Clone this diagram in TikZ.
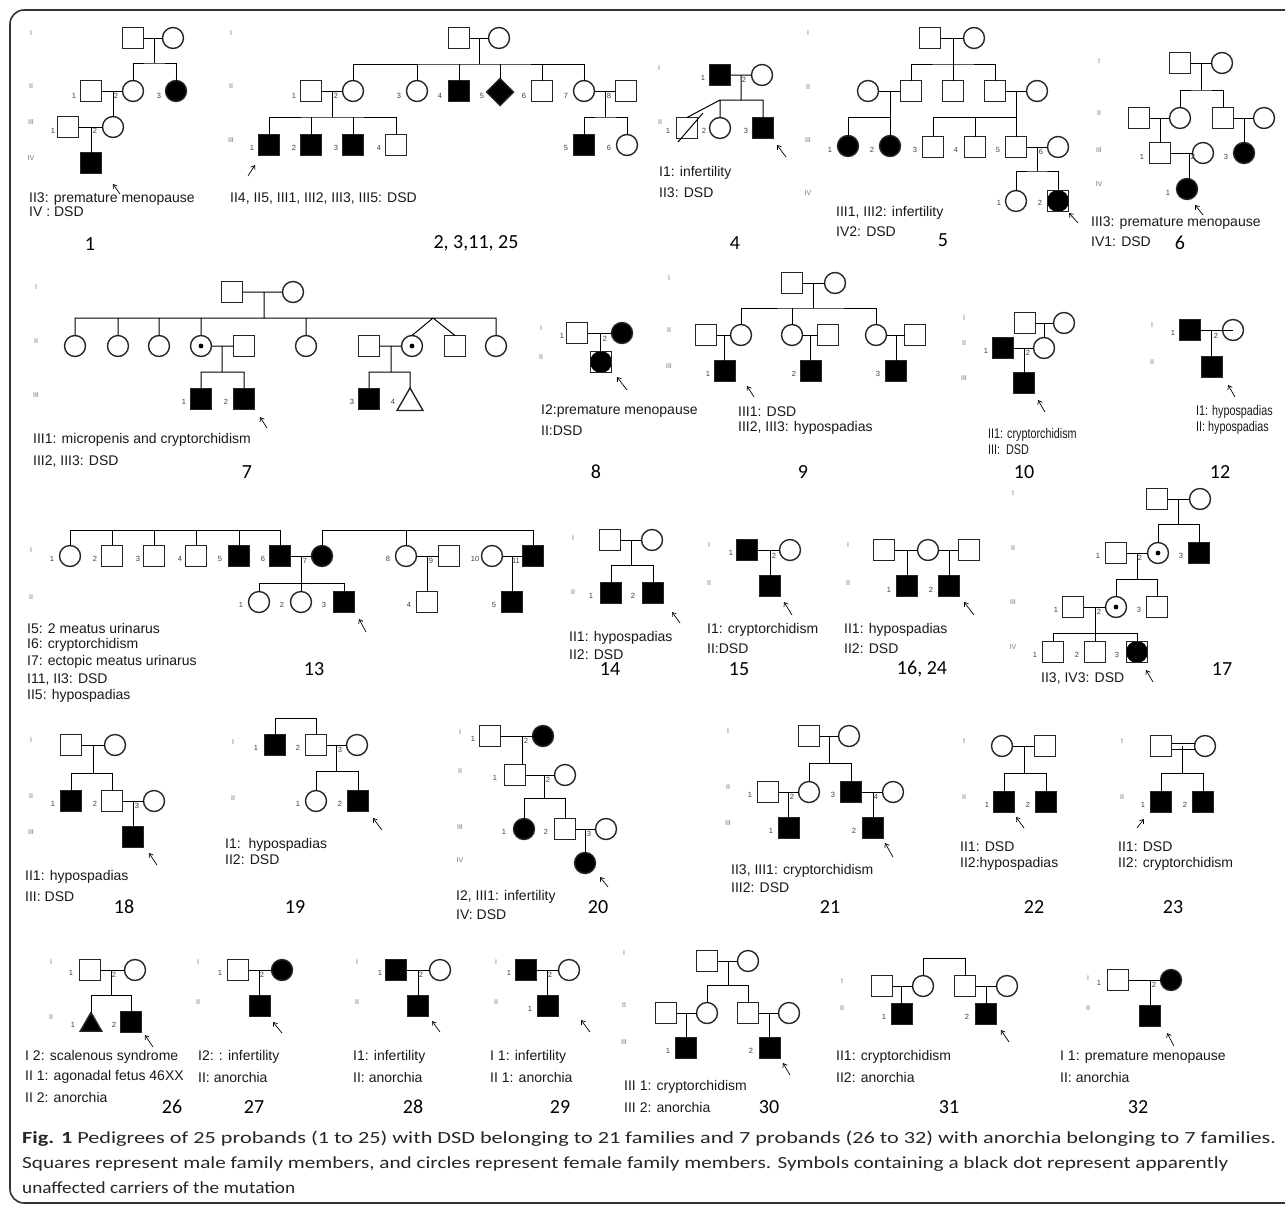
\documentclass[tikz,border=0pt]{standalone}
\usepackage{fontspec}
\usepackage{graphicx}
\setmainfont{Liberation Sans}
\newfontfamily\calib{Carlito}
\usetikzlibrary{shapes.geometric,arrows.meta,calc}
\newcommand\genf{\fontsize{7}{8}\selectfont}
\newcommand\idf{\fontsize{7.5}{8}\selectfont}
\newcommand\txf{\fontsize{14}{16}\selectfont}
\newcommand\numf{\calib\fontsize{20}{24}\selectfont}
\newcommand\capf{\calib\fontsize{17}{20}\selectfont}
\newcommand\narrowtx[1]{\scalebox{0.77}[1]{#1}}
\tikzset{
 sym/.style={draw=black!85,line width=1.4pt,minimum size=21pt,inner sep=0pt,outer sep=0pt},
 msq/.style={sym,rectangle},
 msqa/.style={msq,fill=black},
 fci/.style={sym,circle},
 fcia/.style={fci,fill=black},
 sqc/.style={msq,path picture={\fill[black] (path picture bounding box.center) circle (11pt);}},
 dotc/.style={fci,path picture={\fill[black] (path picture bounding box.center) circle (2.4pt);}},
 dia/.style={sym,diamond,fill=black,minimum size=27pt},
 tri/.style={sym,regular polygon,regular polygon sides=3,minimum size=30pt},
 tria/.style={tri,fill=black,minimum size=25pt},
 ln/.style={line width=1pt,black},
 gl/.style={font=\genf,text=black!55,inner sep=0pt},
 il/.style={font=\idf,text=black!75,inner sep=0pt},
 tx/.style={font=\txf,anchor=west,inner sep=0pt,text=black!90},
 pn/.style={font=\numf,inner sep=0pt},
 pa/.style={-{Straight Barb[length=3.5pt,width=5pt]},line width=0.7pt},
 capn/.style={anchor=west,inner sep=0pt,font=\capf,text=black!85},
 frame/.style={line width=1.6pt,black!80,rounded corners=14pt}
}
\begin{document}
\begin{tikzpicture}[x=1pt,y=-1pt]
\useasboundingbox (0,0) rectangle (1285,1211);
\draw[frame] (10,10) rectangle (1330,1203);

% ================= Pedigree 1
\node[gl] (g1a) at (31,33) {I};
\node[gl] (g1b) at (31,86) {II};
\node[gl] (g1c) at (31,122) {III};
\node[gl] (g1d) at (31,158) {IV};
\node[msq] (p1a) at (133,38) {};
\node[fci] (p1b) at (173,38) {};
\node[msq] (p1c) at (91,91) {};
\node[fci] (p1d) at (133,91) {};
\node[fcia] (p1e) at (176,91) {};
\node[msq] (p1f) at (68,127) {};
\node[fci] (p1g) at (113,127) {};
\node[msqa] (p1h) at (91,163) {};
\coordinate (p1m) at (154,38); \coordinate (p1s) at (154,63);
\coordinate (p1m2) at (113,91);
\coordinate (p1m3) at (91,127);
\draw[ln] (p1a) -- (p1b) (p1m) -- (p1s) (p1d.north) |- (p1s) -| (p1e.north)
  (p1c) -- (p1d) (p1m2) -- (p1g.north) (p1f) -- (p1g) (p1m3) -- (p1h.north);
\node[il] (i1a) at (74,96) {1};
\node[il] (i1b) at (116,96) {2};
\node[il] (i1c) at (159,96) {3};
\node[il] (i1d) at (53,131) {1};
\node[il] (i1e) at (95,131) {2};
\draw[pa] (120,194) -- (113,184);
\node[tx] (t1a) at (29,199) {II3: premature menopause};
\node[tx] (t1b) at (29,212) {IV : DSD};
\node[pn] (n1) at (90,244) {1};

% ================= Pedigree 2
\node[gl] (g2a) at (231,33) {I};
\node[gl] (g2b) at (231,86) {II};
\node[gl] (g2c) at (231,140) {III};
\node[msq] (p2a) at (459,38) {};
\node[fci] (p2b) at (499,38) {};
\coordinate (p2m) at (479,38); \coordinate (p2s) at (479,64);
\node[msq] (p2c) at (311,91) {};
\node[fci] (p2d) at (353,91) {};
\node[fci] (p2e) at (417,91) {};
\node[msqa] (p2f) at (459,91) {};
\node[dia] (p2g) at (500,92) {};
\node[msq] (p2h) at (542,91) {};
\node[fci] (p2i) at (584,91) {};
\node[msq] (p2j) at (626,91) {};
\coordinate (p2m2) at (332,91); \coordinate (p2s2) at (332,117);
\node[msqa] (p2k) at (269,145) {};
\node[msqa] (p2l) at (311,145) {};
\node[msqa] (p2n) at (353,145) {};
\node[msq] (p2o) at (396,145) {};
\coordinate (p2m3) at (605,91); \coordinate (p2s3) at (605,117);
\node[msqa] (p2p) at (584,145) {};
\node[fci] (p2q) at (627,145) {};
\draw[ln] (p2a) -- (p2b) (p2m) -- (p2s) (p2d.north) |- (p2s) -| (p2i.north)
  (p2e.north) -- (p2e.north |- p2s) (p2f.north) -- (p2f.north |- p2s)
  (p2g.north) -- (p2g.north |- p2s) (p2h.north) -- (p2h.north |- p2s)
  (p2c) -- (p2d) (p2m2) -- (p2s2) (p2k.north) |- (p2s2) -| (p2o.north)
  (p2l.north) -- (p2l.north |- p2s2) (p2n.north) -- (p2n.north |- p2s2)
  (p2i) -- (p2j) (p2m3) -- (p2s3) (p2p.north) |- (p2s3) -| (p2q.north);
\node[il] (i2a) at (294,96) {1};
\node[il] (i2b) at (336,96) {2};
\node[il] (i2c) at (399,96) {3};
\node[il] (i2d) at (440,96) {4};
\node[il] (i2e) at (482,96) {5};
\node[il] (i2f) at (524,96) {6};
\node[il] (i2g) at (566,96) {7};
\node[il] (i2h) at (609,96) {8};
\node[il] (i2i) at (252,148) {1};
\node[il] (i2j) at (294,148) {2};
\node[il] (i2k) at (336,148) {3};
\node[il] (i2l) at (379,148) {4};
\node[il] (i2n) at (566,148) {5};
\node[il] (i2o) at (609,148) {6};
\draw[pa] (248,176) -- (255,165);
\node[tx] (t2a) at (230,199) {II4, II5, III1, III2, III3, III5: DSD};
\node[pn] (n2) at (476,243) {2, 3,11, 25};

% ================= Pedigree 4
\node[gl] (g4a) at (659,68) {I};
\node[gl] (g4b) at (660,122) {II};
\node[msqa] (p4a) at (720,75) {};
\node[fci] (p4b) at (762,75) {};
\coordinate (p4m) at (741,75); \coordinate (p4s) at (741,100);
\node[msq] (p4c) at (687,128) {};
\node[fci] (p4d) at (720,128) {};
\node[msqa] (p4e) at (763,128) {};
\coordinate (p4x1) at (703,113); \coordinate (p4x2) at (678,142);
\draw[ln] (p4a) -- (p4b) (p4m) -- (p4s) (p4d.north) |- (p4s) -| (p4e.north)
  (p4d.north |- p4s) -- (p4c.north) (p4x1) -- (p4x2);
\node[il] (i4a) at (703,78) {1};
\node[il] (i4b) at (744,80) {2};
\node[il] (i4c) at (668,131) {1};
\node[il] (i4d) at (704,131) {2};
\node[il] (i4e) at (746,131) {3};
\draw[pa] (786,157) -- (777,145);
\node[tx] (t4a) at (659,173) {I1: infertility};
\node[tx] (t4b) at (659,193) {II3: DSD};
\node[pn] (n4) at (735,243) {4};

% ================= Pedigree 5
\node[gl] (g5a) at (808,33) {I};
\node[gl] (g5b) at (808,87) {II};
\node[gl] (g5c) at (808,140) {III};
\node[gl] (g5d) at (808,193) {IV};
\node[msq] (p5a) at (930,38) {};
\node[fci] (p5b) at (974,38) {};
\coordinate (p5m) at (953,38); \coordinate (p5s) at (953,64);
\node[fci] (p5c) at (868,91) {};
\node[msq] (p5d) at (911,91) {};
\node[msq] (p5e) at (953,91) {};
\node[msq] (p5f) at (995,91) {};
\node[fci] (p5g) at (1037,91) {};
\coordinate (p5m2) at (890,91); \coordinate (p5s2) at (890,117);
\node[fcia] (p5h) at (848,146) {};
\node[fcia] (p5i) at (890,146) {};
\coordinate (p5m3) at (1016,91); \coordinate (p5s3) at (1016,117);
\node[msq] (p5j) at (933,147) {};
\node[msq] (p5k) at (975,147) {};
\node[msq] (p5l) at (1016,147) {};
\node[fci] (p5n) at (1058,147) {};
\coordinate (p5m4) at (1037,147); \coordinate (p5s4) at (1037,171);
\node[fci] (p5o) at (1016,201) {};
\node[sqc] (p5p) at (1058,201) {};
\draw[ln] (p5a) -- (p5b) (p5m) -- (p5s) (p5d.north) |- (p5s) -| (p5f.north) (p5e.north) -- (p5s)
  (p5c) -- (p5d) (p5m2) -- (p5s2) (p5h.north) |- (p5s2) -- (p5i.north)
  (p5f) -- (p5g) (p5m3) -- (p5s3) (p5j.north) |- (p5s3) -- (p5l.north) (p5k.north) -- (p5k.north |- p5s3)
  (p5l) -- (p5n) (p5m4) -- (p5s4) (p5o.north) |- (p5s4) -| (p5p.north);
\node[il] (i5a) at (830,150) {1};
\node[il] (i5b) at (872,150) {2};
\node[il] (i5c) at (915,150) {3};
\node[il] (i5d) at (956,150) {4};
\node[il] (i5e) at (998,150) {5};
\node[il] (i5f) at (1041,152) {6};
\node[il] (i5g) at (999,203) {1};
\node[il] (i5h) at (1040,203) {2};
\draw[pa] (1078,223) -- (1069,213);
\node[tx] (t5a) at (836,213) {III1, III2: infertility};
\node[tx] (t5b) at (836,232) {IV2: DSD};
\node[pn] (n5) at (943,240) {5};

% ================= Pedigree 6
\node[gl] (g6a) at (1099,61) {I};
\node[gl] (g6b) at (1099,113) {II};
\node[gl] (g6c) at (1099,150) {III};
\node[gl] (g6d) at (1099,184) {IV};
\node[msq] (p6a) at (1180,63) {};
\node[fci] (p6b) at (1222,63) {};
\coordinate (p6m) at (1201,63); \coordinate (p6s) at (1201,90);
\node[msq] (p6c) at (1139,118) {};
\node[fci] (p6d) at (1180,118) {};
\node[msq] (p6e) at (1223,118) {};
\node[fci] (p6f) at (1264,118) {};
\coordinate (p6m2) at (1160,118);
\coordinate (p6m3) at (1244,118);
\node[msq] (p6g) at (1160,153) {};
\node[fci] (p6i) at (1203,153) {};
\node[fcia] (p6h) at (1244,153) {};
\coordinate (p6m4) at (1189,153);
\node[fcia] (p6j) at (1187,189) {};
\draw[ln] (p6a) -- (p6b) (p6m) -- (p6s) (p6d.north) |- (p6s) -| (p6e.north)
  (p6c) -- (p6d) (p6m2) -- (p6g.north) (p6e) -- (p6f) (p6m3) -- (p6h.north)
  (p6g) -- (p6i) (p6m4) -- (p6m4 |- p6j.north);
\node[il] (i6a) at (1142,157) {1};
\node[il] (i6b) at (1193,157) {2};
\node[il] (i6c) at (1226,157) {3};
\node[il] (i6d) at (1168,193) {1};
\draw[pa] (1203,215) -- (1195,205);
\node[tx] (t6a) at (1091,223) {III3: premature menopause};
\node[tx] (t6b) at (1091,242) {IV1: DSD};
\node[pn] (n6) at (1180,243) {6};

% ================= Pedigree 7
\node[gl] (g7a) at (36,287) {I};
\node[gl] (g7b) at (36,341) {II};
\node[gl] (g7c) at (36,395) {III};
\node[msq] (p7a) at (232,292) {};
\node[fci] (p7b) at (293,292) {};
\coordinate (p7m) at (264,292); \coordinate (p7s) at (264,318);
\node[fci] (p7c) at (75,346) {};
\node[fci] (p7d) at (118,346) {};
\node[fci] (p7e) at (159,346) {};
\node[dotc] (p7f) at (201,346) {};
\node[msq] (p7g) at (244,346) {};
\node[fci] (p7h) at (306,346) {};
\node[msq] (p7i) at (369,346) {};
\node[dotc] (p7j) at (412,346) {};
\node[msq] (p7k) at (455,346) {};
\node[fci] (p7l) at (496,346) {};
\coordinate (p7tw) at (433,318);
\coordinate (p7m2) at (222,346); \coordinate (p7s2) at (222,372);
\node[msqa] (p7n) at (201,399) {};
\node[msqa] (p7o) at (244,399) {};
\coordinate (p7m3) at (391,346); \coordinate (p7s3) at (391,372);
\node[msqa] (p7p) at (369,399) {};
\node[tri] (p7q) at (410,403) {};
\draw[ln] (p7a) -- (p7b) (p7m) -- (p7s) (p7c.north) |- (p7s) -| (p7l.north)
  (p7d.north) -- (p7d.north |- p7s) (p7e.north) -- (p7e.north |- p7s)
  (p7f.north) -- (p7f.north |- p7s) (p7h.north) -- (p7h.north |- p7s)
  (p7tw) -- (p7j.north) (p7tw) -- (p7k.north)
  (p7f) -- (p7g) (p7m2) -- (p7s2) (p7n.north) |- (p7s2) -| (p7o.north)
  (p7i) -- (p7j) (p7m3) -- (p7s3) (p7p.north) |- (p7s3) -| (p7q.north);
\node[il] (i7a) at (184,402) {1};
\node[il] (i7b) at (226,402) {2};
\node[il] (i7c) at (352,402) {3};
\node[il] (i7d) at (393,402) {4};
\draw[pa] (267,428) -- (260,417);
\node[tx] (t7a) at (33,440) {III1: micropenis and cryptorchidism};
\node[tx] (t7b) at (33,461) {III2, III3: DSD};
\node[pn] (n7) at (247,472) {7};

% ================= Pedigree 8
\node[gl] (g8a) at (541,328) {I};
\node[gl] (g8b) at (541,357) {II};
\node[msq] (p8a) at (577,333) {};
\node[fcia] (p8b) at (622,333) {};
\coordinate (p8m) at (600,333);
\node[sqc] (p8c) at (601,362) {};
\draw[ln] (p8a) -- (p8b) (p8m) -- (p8m |- p8c.north);
\node[il] (i8a) at (562,336) {1};
\node[il] (i8b) at (605,339) {2};
\draw[pa] (627,390) -- (617,377);
\node[tx] (t8a) at (541,411) {I2:premature menopause};
\node[tx] (t8b) at (541,431) {II:DSD};
\node[pn] (n8) at (596,472) {8};

% ================= Pedigree 9
\node[gl] (g9a) at (669,278) {I};
\node[gl] (g9b) at (669,330) {II};
\node[gl] (g9c) at (669,366) {III};
\node[msq] (p9a) at (792,283) {};
\node[fci] (p9b) at (835,283) {};
\coordinate (p9m) at (813,283); \coordinate (p9s) at (813,308);
\node[msq] (p9c) at (706,335) {};
\node[fci] (p9d) at (741,335) {};
\node[fci] (p9e) at (792,335) {};
\node[msq] (p9f) at (828,335) {};
\node[fci] (p9g) at (876,335) {};
\node[msq] (p9h) at (915,335) {};
\coordinate (p9m2) at (724,335); \coordinate (p9m3) at (810,335); \coordinate (p9m4) at (896,335);
\node[msqa] (p9i) at (725,371) {};
\node[msqa] (p9j) at (811,371) {};
\node[msqa] (p9k) at (896,371) {};
\draw[ln] (p9a) -- (p9b) (p9m) -- (p9s) (p9d.north) |- (p9s) -| (p9g.north) (p9e.north) -- (p9e.north |- p9s)
  (p9c) -- (p9d) (p9m2) -- (p9m2 |- p9i.north) (p9e) -- (p9f) (p9m3) -- (p9m3 |- p9j.north)
  (p9g) -- (p9h) (p9m4) -- (p9k.north);
\node[il] (i9a) at (708,374) {1};
\node[il] (i9b) at (794,374) {2};
\node[il] (i9c) at (878,374) {3};
\draw[pa] (754,397) -- (747,386);
\node[tx] (t9a) at (738,412) {III1: DSD};
\node[tx] (t9b) at (738,428) {III2, III3: hypospadias};
\node[pn] (n9) at (803,472) {9};

% ================= Pedigree 10
\node[gl] (g10a) at (964,318) {I};
\node[gl] (g10b) at (964,343) {II};
\node[gl] (g10c) at (964,378) {III};
\node[msq] (p10a) at (1025,323) {};
\node[fci] (p10b) at (1064,323) {};
\coordinate (p10m) at (1044,323);
\node[msqa] (p10c) at (1003,348) {};
\node[fci] (p10d) at (1044,348) {};
\coordinate (p10m2) at (1024,348);
\node[msqa] (p10e) at (1024,383) {};
\draw[ln] (p10a) -- (p10b) (p10m) -- (p10d.north) (p10c) -- (p10d) (p10m2) -- (p10e.north);
\node[il] (i10a) at (986,351) {1};
\node[il] (i10b) at (1028,353) {2};
\draw[pa] (1045,412) -- (1038,400);
\node[tx] (t10a) at (988,435) {\narrowtx{II1: cryptorchidism}};
\node[tx] (t10b) at (988,450) {\narrowtx{III:\ \ DSD}};
\node[pn] (n10) at (1024,472) {10};

% ================= Pedigree 12
\node[gl] (g12a) at (1152,325) {I};
\node[gl] (g12b) at (1152,362) {II};
\node[msqa] (p12a) at (1190,330) {};
\node[fci] (p12b) at (1233,330) {};
\coordinate (p12m) at (1211,330);
\node[msqa] (p12c) at (1212,367) {};
\draw[ln] (p12a.east) -- (p12b.center) (p12m) -- (p12m |- p12c.north);
\node[il] (i12a) at (1173,333) {1};
\node[il] (i12b) at (1216,336) {2};
\draw[pa] (1235,397) -- (1228,385);
\node[tx] (t12a) at (1196,412) {\narrowtx{I1: hypospadias}};
\node[tx] (t12b) at (1196,428) {\narrowtx{II: hypospadias}};
\node[pn] (n12) at (1220,472) {12};

% ================= Pedigree 13
\node[gl] (g13a) at (31,550) {I};
\node[gl] (g13b) at (31,597) {II};
\node[fci] (p13a) at (70,556) {};
\node[msq] (p13b) at (112,556) {};
\node[msq] (p13c) at (154,556) {};
\node[msq] (p13d) at (196,556) {};
\node[msqa] (p13e) at (239,556) {};
\node[msqa] (p13f) at (280,556) {};
\node[fcia] (p13g) at (322,556) {};
\node[fci] (p13h) at (406,556) {};
\node[msq] (p13i) at (449,556) {};
\node[fci] (p13j) at (492,556) {};
\node[msqa] (p13k) at (533,556) {};
\coordinate (p13s1) at (70,530); \coordinate (p13s2) at (280,530);
\coordinate (p13s3) at (322,530); \coordinate (p13s4) at (533,530);
\coordinate (p13m) at (301,556); \coordinate (p13s5) at (301,583);
\node[fci] (p13l) at (259,602) {};
\node[fci] (p13n) at (301,602) {};
\node[msqa] (p13o) at (344,602) {};
\coordinate (p13m2) at (427,556);
\node[msq] (p13p) at (427,602) {};
\coordinate (p13m3) at (512,556);
\node[msqa] (p13q) at (512,602) {};
\draw[ln] (p13a.north) -- (p13s1) -- (p13s2) -- (p13f.north)
  (p13b.north) -- (p13b.north |- p13s1) (p13c.north) -- (p13c.north |- p13s1)
  (p13d.north) -- (p13d.north |- p13s1) (p13e.north) -- (p13e.north |- p13s1)
  (p13g.north) -- (p13s3) -- (p13s4) -- (p13k.north) (p13h.north) -- (p13h.north |- p13s3)
  (p13f) -- (p13g) (p13m) -- (p13s5) (p13l.north) |- (p13s5) -| (p13o.north) (p13s5) -- (p13n.north)
  (p13h) -- (p13i) (p13m2) -- (p13p.north)
  (p13j) -- (p13k) (p13m3) -- (p13q.north);
\node[il] (i13a) at (52,559) {1};
\node[il] (i13b) at (95,559) {2};
\node[il] (i13c) at (138,559) {3};
\node[il] (i13d) at (180,559) {4};
\node[il] (i13e) at (220,559) {5};
\node[il] (i13f) at (263,559) {6};
\node[il] (i13g) at (305,561) {7};
\node[il] (i13h) at (388,559) {8};
\node[il] (i13i) at (431,561) {9};
\node[il] (i13j) at (475,559) {10};
\node[il] (i13k) at (516,561) {11};
\node[il] (i13l) at (241,605) {1};
\node[il] (i13n) at (282,605) {2};
\node[il] (i13o) at (324,605) {3};
\node[il] (i13p) at (409,605) {4};
\node[il] (i13q) at (494,605) {5};
\draw[pa] (366,632) -- (359,619);
\node[tx] (t13a) at (27,628) {I5: 2 meatus urinarus};
\node[tx] (t13b) at (27,645) {I6: cryptorchidism};
\node[tx] (t13c) at (27,662) {I7: ectopic meatus urinarus};
\node[tx] (t13d) at (27,679) {I11, II3: DSD};
\node[tx] (t13e) at (27,696) {II5: hypospadias};
\node[pn] (n13) at (314,669) {13};

% ================= Pedigree 14
\node[gl] (g14a) at (573,538) {I};
\node[gl] (g14b) at (573,592) {II};
\node[msq] (p14a) at (610,540) {};
\node[fci] (p14b) at (652,540) {};
\coordinate (p14m) at (631,540); \coordinate (p14s) at (631,565);
\node[msqa] (p14c) at (611,593) {};
\node[msqa] (p14d) at (653,593) {};
\draw[ln] (p14a) -- (p14b) (p14m) -- (p14s) (p14c.north) |- (p14s) -| (p14d.north);
\node[il] (i14a) at (591,596) {1};
\node[il] (i14b) at (633,596) {2};
\draw[pa] (680,623) -- (672,612);
\node[tx] (t14a) at (569,638) {II1: hypospadias};
\node[tx] (t14b) at (569,655) {II2: DSD};
\node[pn] (n14) at (610,669) {14};

% ================= Pedigree 15
\node[gl] (g15a) at (709,545) {I};
\node[gl] (g15b) at (709,583) {II};
\node[msqa] (p15a) at (747,550) {};
\node[fci] (p15b) at (790,550) {};
\coordinate (p15m) at (770,550);
\node[msqa] (p15c) at (770,586) {};
\draw[ln] (p15a) -- (p15b) (p15m) -- (p15c.north);
\node[il] (i15a) at (731,553) {1};
\node[il] (i15b) at (774,556) {2};
\draw[pa] (792,615) -- (784,602);
\node[tx] (t15a) at (707,630) {I1: cryptorchidism};
\node[tx] (t15b) at (707,649) {II:DSD};
\node[pn] (n15) at (739,669) {15};

% ================= Pedigree 16, 24
\node[gl] (g16a) at (848,545) {I};
\node[gl] (g16b) at (848,583) {II};
\node[msq] (p16a) at (884,550) {};
\node[fci] (p16b) at (928,550) {};
\node[msq] (p16c) at (969,550) {};
\coordinate (p16m1) at (907,550); \coordinate (p16m2) at (949,550);
\node[msqa] (p16d) at (907,586) {};
\node[msqa] (p16e) at (949,586) {};
\draw[ln] (p16a) -- (p16b) (p16b) -- (p16c) (p16m1) -- (p16d.north) (p16m2) -- (p16e.north);
\node[il] (i16a) at (889,590) {1};
\node[il] (i16b) at (931,590) {2};
\draw[pa] (974,615) -- (964,602);
\node[tx] (t16a) at (844,630) {II1: hypospadias};
\node[tx] (t16b) at (844,649) {II2: DSD};
\node[pn] (n16) at (922,669) {16, 24};

% ================= Pedigree 17
\node[gl] (g17a) at (1013,493) {I};
\node[gl] (g17b) at (1013,548) {II};
\node[gl] (g17c) at (1013,602) {III};
\node[gl] (g17d) at (1013,647) {IV};
\node[msq] (p17a) at (1157,499) {};
\node[fci] (p17b) at (1200,499) {};
\coordinate (p17m) at (1178,499); \coordinate (p17s) at (1178,524);
\node[msq] (p17c) at (1116,553) {};
\node[dotc] (p17d) at (1158,553) {};
\node[msqa] (p17e) at (1199,553) {};
\coordinate (p17m2) at (1137,553); \coordinate (p17s2) at (1137,579);
\node[msq] (p17f) at (1073,607) {};
\node[dotc] (p17g) at (1116,607) {};
\node[msq] (p17h) at (1157,607) {};
\coordinate (p17m3) at (1095,607); \coordinate (p17s3) at (1095,633);
\node[msq] (p17i) at (1053,652) {};
\node[msq] (p17j) at (1095,652) {};
\node[sqc] (p17k) at (1137,652) {};
\draw[ln] (p17a) -- (p17b) (p17m) -- (p17s) (p17d.north) |- (p17s) -| (p17e.north)
  (p17c) -- (p17d) (p17m2) -- (p17s2) (p17g.north) |- (p17s2) -| (p17h.north)
  (p17f) -- (p17g) (p17m3) -- (p17s3) (p17i.north) |- (p17s3) -| (p17k.north) (p17s3) -- (p17j.north);
\node[il] (i17a) at (1098,556) {1};
\node[il] (i17b) at (1140,558) {2};
\node[il] (i17c) at (1181,556) {3};
\node[il] (i17d) at (1056,610) {1};
\node[il] (i17e) at (1099,612) {2};
\node[il] (i17f) at (1139,610) {3};
\node[il] (i17g) at (1035,655) {1};
\node[il] (i17h) at (1077,655) {2};
\node[il] (i17i) at (1117,655) {3};
\draw[pa] (1153,682) -- (1146,670);
\node[tx] (t17a) at (1041,678) {II3, IV3: DSD};
\node[pn] (n17) at (1222,669) {17};

% ================= Pedigree 18
\node[gl] (g18a) at (31,740) {I};
\node[gl] (g18b) at (31,796) {II};
\node[gl] (g18c) at (31,832) {III};
\node[msq] (p18a) at (71,745) {};
\node[fci] (p18b) at (115,745) {};
\coordinate (p18m) at (93,745); \coordinate (p18s) at (93,773);
\node[msqa] (p18c) at (71,801) {};
\node[msq] (p18d) at (112,801) {};
\node[fci] (p18e) at (154,801) {};
\coordinate (p18m2) at (133,801);
\node[msqa] (p18f) at (133,837) {};
\draw[ln] (p18a) -- (p18b) (p18m) -- (p18s) (p18c.north) |- (p18s) -| (p18d.north)
  (p18d) -- (p18e) (p18m2) -- (p18f.north);
\node[il] (i18a) at (53,804) {1};
\node[il] (i18b) at (95,804) {2};
\node[il] (i18c) at (137,806) {3};
\draw[pa] (157,865) -- (149,853);
\node[tx] (t18a) at (25,877) {II1: hypospadias};
\node[tx] (t18b) at (25,897) {III: DSD};
\node[pn] (n18) at (124,907) {18};

% ================= Pedigree 19
\node[gl] (g19a) at (233,742) {I};
\node[gl] (g19b) at (233,798) {II};
\node[msqa] (p19a) at (275,745) {};
\node[msq] (p19b) at (316,745) {};
\node[fci] (p19c) at (357,745) {};
\coordinate (p19t) at (295,718);
\coordinate (p19m) at (336,745); \coordinate (p19s) at (336,771);
\node[fci] (p19d) at (316,801) {};
\node[msqa] (p19e) at (358,801) {};
\draw[ln] (p19a.north) |- (p19t) -| (p19b.north) (p19b) -- (p19c) (p19m) -- (p19s)
  (p19d.north) |- (p19s) -| (p19e.north);
\node[il] (i19a) at (256,748) {1};
\node[il] (i19b) at (298,748) {2};
\node[il] (i19c) at (340,750) {3};
\node[il] (i19d) at (298,804) {1};
\node[il] (i19e) at (340,804) {2};
\draw[pa] (382,830) -- (373,818);
\node[tx] (t19a) at (225,845) {I1:\ \ hypospadias};
\node[tx] (t19b) at (225,860) {II2: DSD};
\node[pn] (n19) at (295,907) {19};

% ================= Pedigree 20
\node[gl] (g20a) at (460,732) {I};
\node[gl] (g20b) at (460,771) {II};
\node[gl] (g20c) at (460,827) {III};
\node[gl] (g20d) at (460,860) {IV};
\node[msq] (p20a) at (490,736) {};
\node[fcia] (p20b) at (543,736) {};
\coordinate (p20m) at (522,736);
\node[msq] (p20c) at (515,775) {};
\node[fci] (p20d) at (565,775) {};
\coordinate (p20m2) at (544,775); \coordinate (p20s) at (544,798);
\node[fcia] (p20e) at (524,829) {};
\node[msq] (p20f) at (565,829) {};
\node[fci] (p20g) at (606,829) {};
\coordinate (p20m3) at (585,829);
\node[fcia] (p20h) at (585,863) {};
\draw[ln] (p20a) -- (p20b) (p20m) -- (p20m |- p20c.north) (p20c) -- (p20d) (p20m2) -- (p20s)
  (p20e.north) |- (p20s) -| (p20f.north) (p20f) -- (p20g) (p20m3) -- (p20h.north);
\node[il] (i20a) at (473,739) {1};
\node[il] (i20b) at (526,741) {2};
\node[il] (i20c) at (495,778) {1};
\node[il] (i20d) at (548,780) {2};
\node[il] (i20e) at (504,832) {1};
\node[il] (i20f) at (546,832) {2};
\node[il] (i20g) at (589,834) {3};
\draw[pa] (608,887) -- (600,877);
\node[tx] (t20a) at (456,897) {I2, III1: infertility};
\node[tx] (t20b) at (456,915) {IV: DSD};
\node[pn] (n20) at (598,907) {20};

% ================= Pedigree 21
\node[gl] (g21a) at (728,731) {I};
\node[gl] (g21b) at (728,787) {II};
\node[gl] (g21c) at (728,823) {III};
\node[msq] (p21a) at (809,736) {};
\node[fci] (p21b) at (849,736) {};
\coordinate (p21m) at (829,736); \coordinate (p21s) at (829,763);
\node[msq] (p21c) at (768,792) {};
\node[fci] (p21d) at (809,792) {};
\node[msqa] (p21e) at (851,792) {};
\node[fci] (p21f) at (893,792) {};
\coordinate (p21m2) at (788,792); \coordinate (p21m3) at (873,792);
\node[msqa] (p21g) at (789,828) {};
\node[msqa] (p21h) at (873,828) {};
\draw[ln] (p21a) -- (p21b) (p21m) -- (p21s) (p21d.north) |- (p21s) -| (p21e.north)
  (p21c) -- (p21d) (p21m2) -- (p21m2 |- p21g.north) (p21e) -- (p21f) (p21m3) -- (p21h.north);
\node[il] (i21a) at (750,795) {1};
\node[il] (i21b) at (792,797) {2};
\node[il] (i21c) at (833,795) {3};
\node[il] (i21d) at (876,797) {4};
\node[il] (i21e) at (771,831) {1};
\node[il] (i21f) at (854,831) {2};
\draw[pa] (893,857) -- (885,843);
\node[tx] (t21a) at (731,871) {II3, III1: cryptorchidism};
\node[tx] (t21b) at (731,888) {III2: DSD};
\node[pn] (n21) at (830,907) {21};

% ================= Pedigree 22
\node[gl] (g22a) at (964,741) {I};
\node[gl] (g22b) at (964,797) {II};
\node[fci] (p22a) at (1002,746) {};
\node[msq] (p22b) at (1045,746) {};
\coordinate (p22m) at (1024,746); \coordinate (p22s) at (1024,773);
\node[msqa] (p22c) at (1004,802) {};
\node[msqa] (p22d) at (1046,802) {};
\draw[ln] (p22a) -- (p22b) (p22m) -- (p22s) (p22c.north) |- (p22s) -| (p22d.north);
\node[il] (i22a) at (987,805) {1};
\node[il] (i22b) at (1028,805) {2};
\draw[pa] (1024,828) -- (1016,817);
\node[tx] (t22a) at (960,847) {II1: DSD};
\node[tx] (t22b) at (960,864) {II2:hypospadias};
\node[pn] (n22) at (1034,907) {22};

% ================= Pedigree 23
\node[gl] (g23a) at (1122,741) {I};
\node[gl] (g23b) at (1122,797) {II};
\node[msq] (p23a) at (1161,746) {};
\node[fci] (p23b) at (1205,746) {};
\coordinate (p23m) at (1182,746); \coordinate (p23s) at (1182,773);
\node[msqa] (p23c) at (1161,802) {};
\node[msqa] (p23d) at (1203,802) {};
\draw[ln] ($(p23a.east)+(0,-3)$) -- ($(p23b.west)+(0,-3)$) ($(p23a.east)+(0,3)$) -- ($(p23b.west)+(0,3)$)
  (p23m) -- (p23s) (p23c.north) |- (p23s) -| (p23d.north);
\node[il] (i23a) at (1143,805) {1};
\node[il] (i23b) at (1185,805) {2};
\draw[pa] (1137,828) -- (1144,819);
\node[tx] (t23a) at (1118,847) {II1: DSD};
\node[tx] (t23b) at (1118,864) {II2: cryptorchidism};
\node[pn] (n23) at (1173,907) {23};

% ================= Pedigree 26
\node[gl] (g26a) at (51,962) {I};
\node[gl] (g26b) at (51,1017) {II};
\node[msq] (p26a) at (90,970) {};
\node[fci] (p26b) at (135,970) {};
\coordinate (p26m) at (111,970); \coordinate (p26s) at (111,995);
\node[tria] (p26c) at (91,1025) {};
\node[msqa] (p26d) at (131,1022) {};
\draw[ln] (p26a) -- (p26b) (p26m) -- (p26s) (p26c.north) |- (p26s) -| (p26d.north);
\node[il] (i26a) at (71,973) {1};
\node[il] (i26b) at (114,975) {2};
\node[il] (i26c) at (73,1025) {1};
\node[il] (i26d) at (114,1025) {2};
\draw[pa] (153,1047) -- (145,1035);
\node[tx] (t26a) at (25,1057) {I 2: scalenous syndrome};
\node[tx] (t26b) at (25,1077) {II 1: agonadal fetus 46XX};
\node[tx] (t26c) at (25,1097) {II 2: anorchia};
\node[pn] (n26) at (172,1107) {26};

% ================= Pedigree 27
\node[gl] (g27a) at (198,962) {I};
\node[gl] (g27b) at (198,1002) {II};
\node[msq] (p27a) at (238,970) {};
\node[fcia] (p27b) at (282,970) {};
\coordinate (p27m) at (259,970);
\node[msqa] (p27c) at (260,1006) {};
\draw[ln] (p27a) -- (p27b) (p27m) -- (p27m |- p27c.north);
\node[il] (i27a) at (220,973) {1};
\node[il] (i27b) at (262,975) {2};
\draw[pa] (282,1033) -- (273,1022);
\node[tx] (t27a) at (198,1057) {I2: : infertility};
\node[tx] (t27b) at (198,1077) {II: anorchia};
\node[pn] (n27) at (254,1107) {27};

% ================= Pedigree 28
\node[gl] (g28a) at (357,962) {I};
\node[gl] (g28b) at (357,1002) {II};
\node[msqa] (p28a) at (396,970) {};
\node[fci] (p28b) at (440,970) {};
\coordinate (p28m) at (418,970);
\node[msqa] (p28c) at (418,1006) {};
\draw[ln] (p28a) -- (p28b) (p28m) -- (p28c.north);
\node[il] (i28a) at (380,973) {1};
\node[il] (i28b) at (421,975) {2};
\draw[pa] (440,1032) -- (432,1021);
\node[tx] (t28a) at (353,1057) {I1: infertility};
\node[tx] (t28b) at (353,1077) {II: anorchia};
\node[pn] (n28) at (413,1107) {28};

% ================= Pedigree 29
\node[gl] (g29a) at (496,962) {I};
\node[gl] (g29b) at (496,1002) {II};
\node[msqa] (p29a) at (526,970) {};
\node[fci] (p29b) at (569,970) {};
\coordinate (p29m) at (547,970);
\node[msqa] (p29c) at (548,1006) {};
\draw[ln] (p29a) -- (p29b) (p29m) -- (p29m |- p29c.north);
\node[il] (i29a) at (509,973) {1};
\node[il] (i29b) at (550,975) {2};
\node[il] (i29c) at (530,1009) {1};
\draw[pa] (590,1032) -- (581,1020);
\node[tx] (t29a) at (490,1057) {I 1: infertility};
\node[tx] (t29b) at (490,1077) {II 1: anorchia};
\node[pn] (n29) at (560,1107) {29};

% ================= Pedigree 30
\node[gl] (g30a) at (624,953) {I};
\node[gl] (g30b) at (624,1005) {II};
\node[gl] (g30c) at (624,1042) {III};
\node[msq] (p30a) at (707,961) {};
\node[fci] (p30b) at (748,961) {};
\coordinate (p30m) at (728,961); \coordinate (p30s) at (728,985);
\node[msq] (p30c) at (666,1013) {};
\node[fci] (p30d) at (707,1013) {};
\node[msq] (p30e) at (748,1013) {};
\node[fci] (p30f) at (789,1013) {};
\coordinate (p30m2) at (686,1013); \coordinate (p30m3) at (769,1013);
\node[msqa] (p30g) at (686,1048) {};
\node[msqa] (p30h) at (770,1048) {};
\draw[ln] (p30a) -- (p30b) (p30m) -- (p30s) (p30d.north) |- (p30s) -| (p30e.north)
  (p30c) -- (p30d) (p30m2) -- (p30g.north) (p30e) -- (p30f) (p30m3) -- (p30m3 |- p30h.north);
\node[il] (i30a) at (668,1051) {1};
\node[il] (i30b) at (751,1051) {2};
\draw[pa] (790,1075) -- (783,1063);
\node[tx] (t30a) at (624,1087) {III 1: cryptorchidism};
\node[tx] (t30b) at (624,1107) {III 2: anorchia};
\node[pn] (n30) at (769,1107) {30};

% ================= Pedigree 31
\node[gl] (g31a) at (842,981) {I};
\node[gl] (g31b) at (842,1008) {II};
\node[msq] (p31a) at (882,986) {};
\node[fci] (p31b) at (923,986) {};
\node[msq] (p31c) at (965,986) {};
\node[fci] (p31d) at (1007,986) {};
\coordinate (p31t) at (944,958);
\coordinate (p31m) at (901,986); \coordinate (p31m2) at (986,986);
\node[msqa] (p31e) at (902,1014) {};
\node[msqa] (p31f) at (986,1014) {};
\draw[ln] (p31b.north) |- (p31t) -| (p31c.north) (p31a) -- (p31b) (p31m) -- (p31m |- p31e.north)
  (p31c) -- (p31d) (p31m2) -- (p31f.north);
\node[il] (i31a) at (884,1017) {1};
\node[il] (i31b) at (967,1017) {2};
\draw[pa] (1009,1042) -- (1001,1030);
\node[tx] (t31a) at (836,1057) {II1: cryptorchidism};
\node[tx] (t31b) at (836,1077) {II2: anorchia};
\node[pn] (n31) at (949,1107) {31};

% ================= Pedigree 32
\node[gl] (g32a) at (1088,978) {I};
\node[gl] (g32b) at (1088,1008) {II};
\node[msq] (p32a) at (1118,980) {};
\node[fcia] (p32b) at (1171,980) {};
\coordinate (p32m) at (1150,980);
\node[msqa] (p32c) at (1150,1016) {};
\draw[ln] (p32a) -- (p32b) (p32m) -- (p32c.north);
\node[il] (i32a) at (1099,983) {1};
\node[il] (i32b) at (1154,985) {2};
\draw[pa] (1174,1046) -- (1167,1033);
\node[tx] (t32a) at (1060,1057) {I 1: premature menopause};
\node[tx] (t32b) at (1060,1077) {II: anorchia};
\node[pn] (n32) at (1138,1107) {32};

% ================= Caption
\node[capn] (cap1) at (22,1139) {\resizebox{1254pt}{\height}{\textbf{Fig. 1} Pedigrees of 25 probands (1 to 25) with DSD belonging to 21 families and 7 probands (26 to 32) with anorchia belonging to 7 families.}};
\node[capn] (cap2) at (22,1164) {\resizebox{1206pt}{\height}{Squares represent male family members, and circles represent female family members. Symbols containing a black dot represent apparently}};
\node[capn] (cap3) at (22,1188) {\resizebox{273pt}{\height}{unaffected carriers of the mutation}};
\end{tikzpicture}
\end{document}
